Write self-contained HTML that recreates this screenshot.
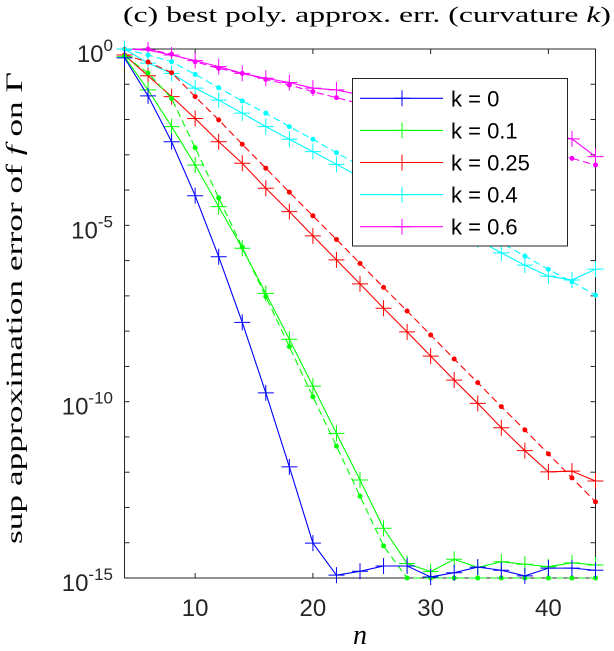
<!DOCTYPE html>
<html><head><meta charset="utf-8"><style>
html,body{margin:0;padding:0;background:#fff;width:614px;height:651px;overflow:hidden}
svg{display:block}
</style></head><body>
<svg id="chart" width="614" height="651" xmlns="http://www.w3.org/2000/svg">
<text x="367" y="22" text-anchor="middle" font-family="Liberation Serif, serif" font-size="22" textLength="488" lengthAdjust="spacingAndGlyphs">(c) best poly. approx. err. (curvature <tspan font-style="italic">k</tspan>)</text>
<text transform="translate(22,308) rotate(-90)" text-anchor="middle" font-family="Liberation Serif, serif" font-size="23" textLength="472" lengthAdjust="spacingAndGlyphs">sup approximation error of <tspan font-style="italic">f</tspan> on Γ</text>
<text x="360" y="644" text-anchor="middle" font-family="Liberation Serif, serif" font-style="italic" font-size="28">n</text>
<g id="plot"></g>
</svg>
<script>
const nValues=[4,6,8,10,12,14,16,18,20,22,24,26,28,30,32,34,36,38,40,42,44];
// values are -log10(error)
const k0Best=[0.25,1.33,2.63,4.16,5.89,7.75,9.75,11.85,14.01,14.92,14.81,14.66,14.66,14.97,14.85,14.69,14.78,14.94,14.72,14.72,14.78];
const k01Best=[0.22,1.16,2.20,3.29,4.47,5.65,6.93,8.23,9.56,10.90,12.22,13.59,14.59,14.82,14.47,14.70,14.54,14.61,14.68,14.57,14.63];
const k01Bound=[0.2,0.68,1.40,2.80,4.22,5.62,7.02,8.44,9.86,11.26,12.68,14.09,15,15,15,15,15,15,15,15,15];
const k025Best=[0.17,0.76,1.35,1.97,2.63,3.24,3.95,4.61,5.30,5.98,6.66,7.35,8.02,8.71,9.39,10.05,10.74,11.39,11.99,11.97,12.25];
const k025Bound=[0.17,0.37,0.67,1.35,2.01,2.70,3.38,4.06,4.73,5.40,6.08,6.76,7.43,8.11,8.79,9.46,10.14,10.80,11.48,12.16,12.84];
const k04Best=[0,0.40,0.69,1.11,1.45,1.82,2.20,2.56,2.91,3.27,3.63,3.99,4.34,4.70,5.06,5.41,5.78,6.13,6.44,6.55,6.24];
const k04Bound=[0,0.17,0.36,0.72,1.10,1.47,1.82,2.20,2.56,2.94,3.31,3.67,4.04,4.41,4.77,5.14,5.50,5.87,6.25,6.60,6.98];
const k06Best=[0,0.03,0.17,0.33,0.50,0.69,0.83,0.95,1.11,1.16,1.30,1.44,1.58,1.72,1.86,2.00,2.13,2.27,2.41,2.55,3.05];
const k06Bound=[0,0,0.15,0.36,0.55,0.69,0.86,1.02,1.21,1.38,1.55,1.72,1.90,2.07,2.24,2.41,2.58,2.76,2.93,3.10,3.29];
const xTicks=[10,20,30,40];
const yTicks=[0,-5,-10,-15];
const legendLabels=['k = 0','k = 0.1','k = 0.25','k = 0.4','k = 0.6'];

const NS='http://www.w3.org/2000/svg';
const L=124.5,R=595.5,T=49,B=578;
const X=n=>L+(n-4)/(44-4)*(R-L);
const Y=e=>T+(0-e)/15*(B-T);
const g=document.getElementById('plot');
function mk(tag,attrs,parent){const el=document.createElementNS(NS,tag);for(const k in attrs)el.setAttribute(k,attrs[k]);(parent||g).appendChild(el);return el;}

const box=mk('rect',{x:L,y:T,width:R-L,height:B-T,fill:'none',stroke:'#262626','stroke-width':1});


for(let d=0;d<=15;d++){
  const y=Y(-d);
  const t1=mk('line',{x1:L,x2:L+5,y1:y,y2:y,stroke:'#262626'});
  
  
  const t2=mk('line',{x1:R-5,x2:R,y1:y,y2:y,stroke:'#262626'});
  
  
}
yTicks.forEach(e=>{
  const y=Y(e);
  const t=mk('text',{x:113,y:y+13,'text-anchor':'end','font-family':'Liberation Sans, sans-serif','font-size':24,fill:'#262626'});
  
  
  const b=document.createElementNS(NS,'tspan');b.textContent='10';t.appendChild(b);
  const s=document.createElementNS(NS,'tspan');s.setAttribute('dy','-11');s.setAttribute('font-size','17');s.textContent=String(e);t.appendChild(s);
});
xTicks.forEach(n=>{
  const x=X(n);
  const a=mk('line',{x1:x,x2:x,y1:B,y2:B-5,stroke:'#262626'});
  
  
  const b=mk('line',{x1:x,x2:x,y1:T,y2:T+5,stroke:'#262626'});
  
  
  const t=mk('text',{x:x,y:616,'text-anchor':'middle','font-family':'Liberation Sans, sans-serif','font-size':24,fill:'#262626'});
  
  
  t.textContent=n;
});

function plus(x,y,c,name){
  const p=mk('path',{d:`M${x-8} ${y}H${x+8}M${x} ${y-8}V${y+8}`,stroke:c,'stroke-width':1,fill:'none'});
  
  
}
function series(vals,color,dashed,name){
  const pts=nValues.map((n,i)=>[X(n),Y(-vals[i])]);
  const pl=mk('polyline',{points:pts.map(p=>p.join(',')).join(' '),fill:'none',stroke:color,'stroke-width':1.1});
  if(dashed)pl.setAttribute('stroke-dasharray','7,4');
  
  
  pts.forEach(p=>{
    if(dashed){
      const c=mk('circle',{cx:p[0],cy:p[1],r:2.5,fill:color});
      
      
    } else plus(p[0],p[1],color,name+'-marker');
  });
}
const colors=['#0000ff','#00ff00','#ff0000','#00ffff','#ff00ff'];
series(k06Bound,colors[4],true,'k06-bound');
series(k06Best,colors[4],false,'k06-best');
series(k04Bound,colors[3],true,'k04-bound');
series(k04Best,colors[3],false,'k04-best');
series(k025Bound,colors[2],true,'k025-bound');
series(k025Best,colors[2],false,'k025-best');
series(k01Bound,colors[1],true,'k01-bound');
series(k01Best,colors[1],false,'k01-best');
series(k0Best,colors[0],false,'k0-best');

const lg=mk('g',{});


const lb=mk('rect',{x:352.5,y:78.5,width:215,height:167.5,fill:'#fff',stroke:'#262626','stroke-width':1},lg);


legendLabels.forEach((lab,i)=>{
  const y=98.3+i*32.1;
  const ln=mk('line',{x1:360,x2:443,y1:y,y2:y,stroke:colors[i],'stroke-width':1.1},lg);
  
  
  const p=mk('path',{d:`M394 ${y}H410M402 ${y-8}V${y+8}`,stroke:colors[i],fill:'none'},lg);
  
  
  const t=mk('text',{x:451,y:y+8,'font-family':'Liberation Sans, sans-serif','font-size':22,fill:'#000'},lg);
  
  
  t.textContent=lab;
});
</script>
</body></html>
